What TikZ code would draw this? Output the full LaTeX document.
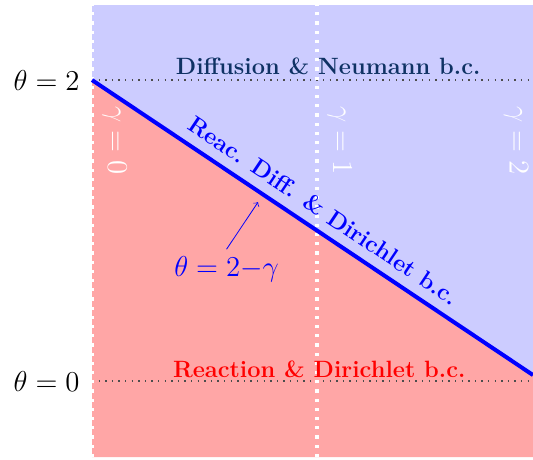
\documentclass[tikz,border=0pt]{standalone}
\usepackage{amsmath}
\definecolor{navytext}{RGB}{15,50,100}

\begin{document}
\begin{tikzpicture}[x=112.5pt,y=75.25pt,
  gammaline/.style={white,line width=2pt,dash pattern=on 1.6pt off 3pt},
  thetaline/.style={black!70,line width=0.7pt,dash pattern=on 0.7pt off 2.6pt},
  gammalbl/.style={white,rotate=-90,font=\Large},
  regionlbl/.style={font=\fontsize{11.8}{13}\selectfont\bfseries}]

\useasboundingbox (-0.409,-0.518) rectangle (1.96,2.532);

% Regions
\fill[blue!20] (0,-0.505) rectangle (1.96,2.5);
\fill[red!35] (0,-0.505) -- (1.96,-0.505) -- (1.96,0.04) -- (0,2) -- cycle;

% Levels theta=0 and theta=2
\draw[thetaline] (0,2) -- (1.96,2);
\draw[thetaline] (0,0) -- (1.96,0);
\node[left=2.7pt,font=\Large] (thetatwo) at (0,2) {$\theta=2$};
\node[left=2.7pt,font=\Large] (thetazero) at (0,0) {$\theta=0$};

% Lines gamma=0 and gamma=1
\foreach \g in {0,1}
  \draw[gammaline] (\g,-0.505) -- (\g,2.5);
\node[gammalbl] (gammazero) at (0.1,1.6) {$\gamma=0$};
\node[gammalbl] (gammaone) at (1.1,1.6) {$\gamma=1$};
\node[gammalbl,inner sep=1pt] (gammatwo) at (1.885,1.6) {$\gamma=2$};

% Interface
\draw[blue,line width=2pt] (0,2) -- (1.96,0.04)
  node[midway,sloped,above=1.5pt,regionlbl,text=blue] (interlbl)
  {Reac. Diff. \& Dirichlet b.c.};

% Region labels
\node[regionlbl,text=navytext] (difflbl) at (1.05,2.09)
  {Diffusion \& Neumann b.c.};
\node[regionlbl,text=red] (reaclbl) at (1.01,0.08)
  {Reaction \& Dirichlet b.c.};

% Interface equation
\node[blue,font=\Large] (eqlbl) at (0.598,0.744) {$\theta=2{-}\gamma$};
\coordinate (eqtip) at (0.738,1.189);
\draw[blue,thin,->] (eqlbl.north) -- (eqtip);

\end{tikzpicture}
\end{document}
